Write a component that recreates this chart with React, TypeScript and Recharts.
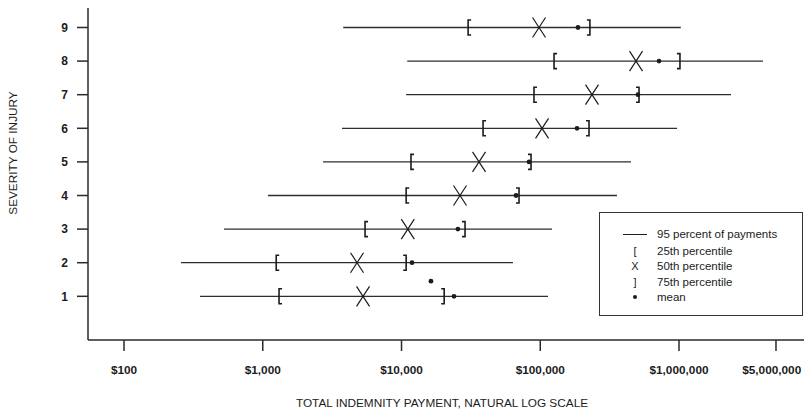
import React from 'react';
import { ComposedChart, XAxis, YAxis, Scatter, ReferenceLine, Legend } from 'recharts';

// Severity of injury (rows)
const severity = [1, 2, 3, 4, 5, 6, 7, 8, 9];
// 95 percent of payments (low / high ends)
const p95Low = [353, 257, 526, 1090, 2720, 3730, 10800, 11000, 3800];
const p95High = [113700, 63600, 121600, 357000, 451000, 968000, 2370000, 4030000, 1030000];
// Percentiles and mean
const p25 = [1310, 1250, 5460, 10800, 11700, 38700, 90100, 125700, 30200];
const p50 = [5280, 4780, 11100, 26400, 36200, 103000, 236000, 490000, 98000];
const p75 = [20300, 10800, 28700, 70300, 85800, 224600, 515000, 1016000, 228000];
const meanPay = [23900, 11900, 25500, 66900, 83000, 184000, 506000, 718000, 187000];
// Stray mean dot printed between rows 1 and 2
const strayMeanX = [16300];
const strayMeanY = [1.45];

const xTicks = [100, 1000, 10000, 100000, 1000000, 5000000];
const xTickLabels = ['$100', '$1,000', '$10,000', '$100,000', '$1,000,000', '$5,000,000'];
const yTicks = [1, 2, 3, 4, 5, 6, 7, 8, 9];

const legendLabels = ['95 percent of payments', '25th percentile', '50th percentile', '75th percentile', 'mean'];

const FONT = '"Liberation Sans", Arial, Helvetica, sans-serif';
const INK = '#1c1c1c';
const CHART_W = 804;

const toPoints = (xs: number[], ys: number[]) => xs.map((x, i) => ({ x, y: ys[i] }));

const p25Data = toPoints(p25, severity);
const p50Data = toPoints(p50, severity);
const p75Data = toPoints(p75, severity);
const meanData = [...toPoints(meanPay, severity), ...toPoints(strayMeanX, strayMeanY)];

const LeftBracket = (props: any) => {
  const { cx, cy } = props;
  if (cx == null || cy == null) return null;
  return (
    <path
      d={`M${cx + 3},${cy - 7.5} L${cx},${cy - 7.5} L${cx},${cy + 7.5} L${cx + 3},${cy + 7.5}`}
      fill="none"
      stroke={INK}
      strokeWidth={1.6}
    />
  );
};

const RightBracket = (props: any) => {
  const { cx, cy } = props;
  if (cx == null || cy == null) return null;
  return (
    <path
      d={`M${cx - 3},${cy - 7.5} L${cx},${cy - 7.5} L${cx},${cy + 7.5} L${cx - 3},${cy + 7.5}`}
      fill="none"
      stroke={INK}
      strokeWidth={1.6}
    />
  );
};

const Cross = (props: any) => {
  const { cx, cy } = props;
  if (cx == null || cy == null) return null;
  return (
    <path
      d={`M${cx - 6.5},${cy - 10} L${cx + 6.5},${cy + 10} M${cx + 6.5},${cy - 10} L${cx - 6.5},${cy + 10}`}
      fill="none"
      stroke={INK}
      strokeWidth={1.2}
    />
  );
};

const Dot = (props: any) => {
  const { cx, cy } = props;
  if (cx == null || cy == null) return null;
  return <circle cx={cx} cy={cy} r={2.4} fill={INK} />;
};

const XTick = (props: any) => {
  const { x, y, payload } = props;
  const label = xTickLabels[xTicks.indexOf(payload.value)] ?? String(payload.value);
  const fontSize = 11.8;
  const approxW = label.length * fontSize * 0.53;
  // keep the label inside the picture's right edge
  const cx = Math.min(x, CHART_W - 1 - approxW / 2);
  return (
    <text
      x={cx}
      y={y}
      dy="0.71em"
      textAnchor="middle"
      fill={INK}
      fontSize={fontSize}
      fontWeight="bold"
      fontFamily={FONT}
    >
      {label}
    </text>
  );
};

const LegendBox = () => {
  const rowTop = [13, 30, 45, 61, 76];
  const symbols: React.ReactNode[] = [
    <div style={{ width: 24, height: 0, borderTop: `1.4px solid ${INK}`, marginTop: 0 }} />,
    <span>[</span>,
    <span>X</span>,
    <span>]</span>,
    <span style={{ display: 'inline-block', width: 4.5, height: 4.5, borderRadius: '50%', background: INK }} />,
  ];
  return (
    <div
      style={{
        position: 'relative',
        width: 204,
        height: 104,
        boxSizing: 'border-box',
        border: '1px solid #333',
        background: '#fff',
        fontFamily: FONT,
        fontSize: 11.5,
        color: INK,
      }}
    >
      {legendLabels.map((lab, i) => (
        <div key={lab} style={{ position: 'absolute', left: 0, top: rowTop[i], height: 16, width: 204 }}>
          <div
            style={{
              position: 'absolute',
              left: 22,
              width: 26,
              height: 16,
              display: 'flex',
              alignItems: 'center',
              justifyContent: 'center',
              fontSize: 11,
            }}
          >
            {symbols[i]}
          </div>
          <div style={{ position: 'absolute', left: 57, height: 16, lineHeight: '16px', whiteSpace: 'nowrap' }}>
            {lab}
          </div>
        </div>
      ))}
    </div>
  );
};

export default function App() {
  return (
    <div style={{ position: 'absolute', left: 0, top: 0, width: 804, height: 412, background: '#fff' }}>
      <ComposedChart width={CHART_W} height={412} margin={{ top: 8, right: 0, bottom: 0, left: 0 }}>
        <XAxis
          type="number"
          dataKey="x"
          scale="log"
          domain={[55, 7960000]}
          allowDataOverflow
          ticks={xTicks}
          height={72}
          tickSize={11}
          tickMargin={15}
          axisLine={{ stroke: '#2a2a2a', strokeWidth: 1.5 }}
          tickLine={{ stroke: '#2a2a2a', strokeWidth: 1.5 }}
          tick={<XTick />}
          interval={0}
          label={{
            content: () => (
              <text x={442} y={407} textAnchor="middle" fill={INK} fontSize={11.8} fontFamily={FONT}>
                TOTAL INDEMNITY PAYMENT, NATURAL LOG SCALE
              </text>
            ),
          }}
        />
        <YAxis
          type="number"
          dataKey="y"
          domain={[-0.3, 9.58]}
          allowDataOverflow
          ticks={yTicks}
          width={88}
          tickSize={11}
          tickMargin={9}
          axisLine={{ stroke: '#2a2a2a', strokeWidth: 1.5 }}
          tickLine={{ stroke: '#2a2a2a', strokeWidth: 1.5 }}
          tick={{ fill: INK, fontSize: 12, fontWeight: 'bold', fontFamily: FONT }}
          interval={0}
          label={{
            content: () => (
              <text
                x={13}
                y={153}
                transform="rotate(-90, 13, 153)"
                textAnchor="middle"
                dominantBaseline="central"
                fill={INK}
                fontSize={11.8}
                fontFamily={FONT}
              >
                SEVERITY OF INJURY
              </text>
            ),
          }}
        />
        {severity.map((s, i) => (
          <ReferenceLine
            key={`r${s}`}
            segment={[
              { x: p95Low[i], y: s },
              { x: p95High[i], y: s },
            ]}
            stroke="#2e2e2e"
            strokeWidth={1.3}
            ifOverflow="visible"
          />
        ))}
        <Scatter data={p25Data} shape={LeftBracket} isAnimationActive={false} />
        <Scatter data={p50Data} shape={Cross} isAnimationActive={false} />
        <Scatter data={p75Data} shape={RightBracket} isAnimationActive={false} />
        <Scatter data={meanData} shape={Dot} isAnimationActive={false} />
        <Legend
          layout="vertical"
          align="center"
          verticalAlign="middle"
          wrapperStyle={{ left: 599, top: 212, width: 204, height: 104 }}
          content={() => <LegendBox />}
        />
      </ComposedChart>
    </div>
  );
}
